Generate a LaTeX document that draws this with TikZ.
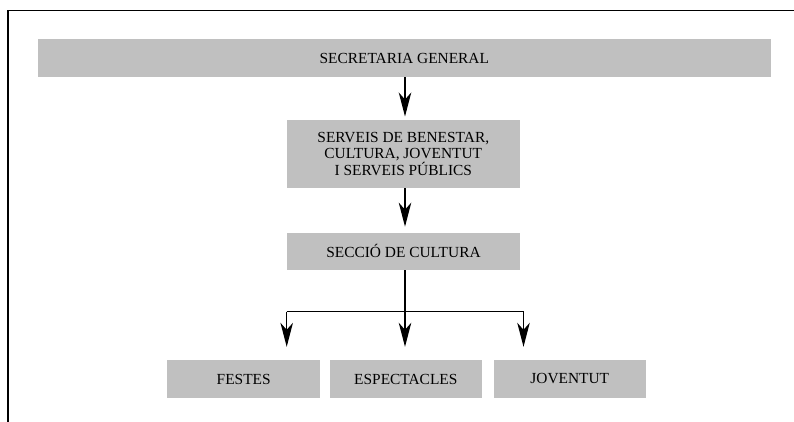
\documentclass[tikz,border=0pt]{standalone}
\usepackage{fontspec}
\setmainfont{Liberation Serif}
\usetikzlibrary{arrows.meta}
\definecolor{boxgray}{RGB}{192,192,192}
\begin{document}
\begin{tikzpicture}[x=1pt,y=-1pt,
  orgbox/.style={fill=boxgray, draw=none, inner sep=0pt, align=center,
    font=\fontsize{15.4}{16.7}\selectfont},
  conn/.style={line width=1.2pt, -{Stealth[length=24pt,width=12.5pt,inset=7pt]}},
  plainline/.style={line width=1.2pt},
  frameline/.style={line width=1.4pt}]
\useasboundingbox (0,0) rectangle (794,422);
% frame
\coordinate (fl) at (8,422);
\coordinate (ft) at (8,10.5);
\coordinate (fr) at (794,10.5);
\draw[frameline] (fl) -- (ft) -- (fr);
% boxes
\node[orgbox, minimum width=733pt, minimum height=38pt] (sg) at (404.3,58) {SECRETARIA GENERAL};
\node[orgbox, minimum width=233pt, minimum height=68pt] (sb) at (403.3,154) {SERVEIS DE BENESTAR,\\CULTURA, JOVENTUT\\I SERVEIS PÚBLICS};
\node[orgbox, minimum width=233pt, minimum height=37.5pt] (sc) at (403.5,251.3) {SECCIÓ DE CULTURA};
\node[orgbox, minimum width=153pt, minimum height=38pt] (fe) at (243.7,379) {FESTES};
\node[orgbox, minimum width=152pt, minimum height=38pt] (es) at (405.8,379) {ESPECTACLES};
\node[orgbox, minimum width=152pt, minimum height=38pt] (jo) at (569.8,379) {JOVENTUT};
% connectors
\coordinate (ax) at (405,0);
\draw[conn, shorten >=3.3pt] (sg.south -| ax) -- (sb.north -| ax);
\draw[conn, shorten >=5.7pt] (sb.south -| ax) -- (sc.north -| ax);
\coordinate (bar) at (405,311.7);
\coordinate (barl) at (286.7,311.7);
\coordinate (barr) at (523.5,311.7);
\draw[plainline] (sc.south -| ax) -- (bar);
\draw[plainline] (barl) -- (barr);
\draw[conn, shorten >=13pt] (barl) -- (fe.north -| barl);
\draw[conn, shorten >=13pt] (bar) -- (es.north -| bar);
\draw[conn, shorten >=13pt] (barr) -- (jo.north -| barr);
\end{tikzpicture}
\end{document}
